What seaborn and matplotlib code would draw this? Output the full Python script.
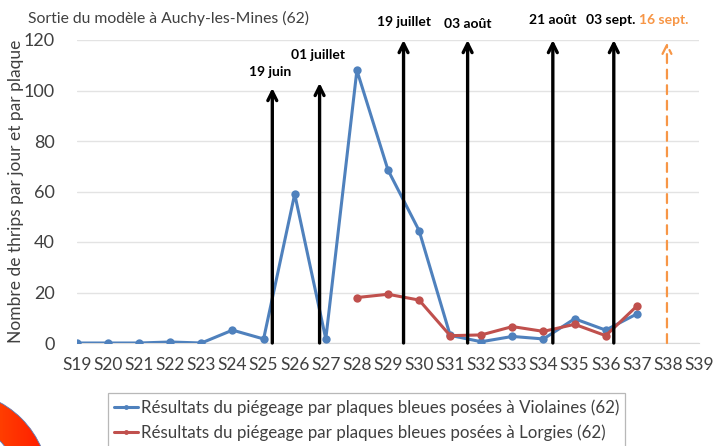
import numpy as np
import pandas as pd
import seaborn as sns
import matplotlib.pyplot as plt
from matplotlib.patches import Wedge

# Data
weeks = ["S19", "S20", "S21", "S22", "S23", "S24", "S25", "S26", "S27", "S28", "S29",
         "S30", "S31", "S32", "S33", "S34", "S35", "S36", "S37", "S38", "S39"]
violaines = [0, 0, 0, 0.4, 0, 5.1, 1.6, 59, 1.6, 108, 68.5, 44.5, 3, 0.5, 2.6, 1.6,
             9.6, 5.1, 11.5, None, None]
lorgies = [None, None, None, None, None, None, None, None, None, 18, 19.3, 17, 2.9, 3.2,
           6.5, 4.6, 7.4, 2.9, 14.6, None, None]

# model output dates (arrow position on week axis, arrow top)
dates = ["19 juin", "01 juillet", "19 juillet", "03 août", "21 août", "03 sept.", "16 sept."]
date_x = [6.28, 7.8, 10.5, 12.56, 15.3, 17.26, 18.97]
date_top = [101, 103, 120, 120, 120, 120, 119]
label_x = [6.22, 7.76, 10.5, 12.56, 15.3, 17.17, 18.87]
label_y = [107.5, 114, 127, 126.5, 128, 128, 128]

name_v = "Résultats du piégeage par plaques bleues posées à Violaines (62)"
name_l = "Résultats du piégeage par plaques bleues posées à Lorgies (62)"

blue = "#4F81BD"
red = "#C0504D"
orange = "#F79646"

sns.set_style("white")
plt.rcParams["font.family"] = ["Lato", "DejaVu Sans"]

df = pd.DataFrame({"x": list(range(len(weeks))) * 2,
                   "y": violaines + lorgies,
                   "serie": [name_v] * len(weeks) + [name_l] * len(weeks)})
df = df.dropna()

fig = plt.figure(figsize=(7.28, 4.46), dpi=100)
ax = fig.add_axes([77 / 728, 1 - 343 / 446, 622 / 728, 303 / 446])

sns.lineplot(data=df, x="x", y="y", hue="serie", palette=[blue, red], marker="o",
             markersize=6, markeredgewidth=0, linewidth=2.2, ax=ax, zorder=3)

ax.set_xlim(0, len(weeks) - 1)
ax.set_ylim(0, 120)
ax.set_yticks([0, 20, 40, 60, 80, 100, 120])
ax.set_xticks(range(len(weeks)))
ax.set_xticklabels(weeks)
ax.tick_params(axis="y", labelsize=13, length=0, pad=16, colors="#404040")
ax.tick_params(axis="x", labelsize=12.5, length=4, color="#D9D9D9", colors="#404040", pad=6)
ax.grid(axis="y", color="#E3E3E3", linewidth=1)
for s in ["top", "right", "left"]:
    ax.spines[s].set_visible(False)
ax.spines["bottom"].set_color("#D9D9D9")
ax.set_xlabel("")
ax.set_ylabel("Nombre de thrips par jour et par plaque", fontsize=12.5, color="#404040")
ax.yaxis.set_label_coords(-0.086, 0.5)

# arrows for model output dates
for i in range(len(dates)):
    last = i == len(dates) - 1
    col = orange if last else "black"
    ax.annotate("", xy=(date_x[i], date_top[i]), xytext=(date_x[i], 0),
                arrowprops=dict(arrowstyle="->", color=col, lw=1.6 if last else 2.4,
                                linestyle=(0, (4, 3)) if last else "-",
                                mutation_scale=16, shrinkA=0, shrinkB=0),
                annotation_clip=False, zorder=4)
    ax.text(label_x[i], label_y[i], dates[i], ha="center", va="center", fontsize=10,
            fontweight="bold", color=col, clip_on=False)

fig.text(28 / 728, 1 - 18 / 446, "Sortie du modèle à Auchy-les-Mines (62)", fontsize=11.3,
         color="#404040", va="center", ha="left")

leg = ax.legend(loc="upper left", bbox_to_anchor=(100 / 728, 1 - 385 / 446),
                bbox_transform=fig.transFigure, fontsize=12.2, frameon=True, fancybox=False,
                edgecolor="#A6A6A6", handlelength=1.4, handletextpad=0.15,
                borderpad=0.35, labelspacing=0.5)
leg.get_frame().set_linewidth(0.9)
for t in leg.get_texts():
    t.set_color("#404040")
for h in leg.get_lines():
    h.set_markersize(3.5)

# decorative ring in the bottom-left corner of the slide
deco = fig.add_axes([0, 0, 1, 1], zorder=-1)
deco.set_xlim(0, 728)
deco.set_ylim(446, 0)
deco.axis("off")
ring = Wedge((-45, 485), 94, 0, 360, width=31, facecolor="none", edgecolor="#5B7DB8", lw=0.6)
deco.add_patch(ring)
grad = np.linspace(0, 1, 64).reshape(1, -1)
img = deco.imshow(grad, cmap=sns.blend_palette(["#FFA500", "#FF1A00"], as_cmap=True),
                  extent=(-140, 50, 446, 380), aspect="auto")
img.set_clip_path(ring)

fig.savefig("out.png", dpi=100)
